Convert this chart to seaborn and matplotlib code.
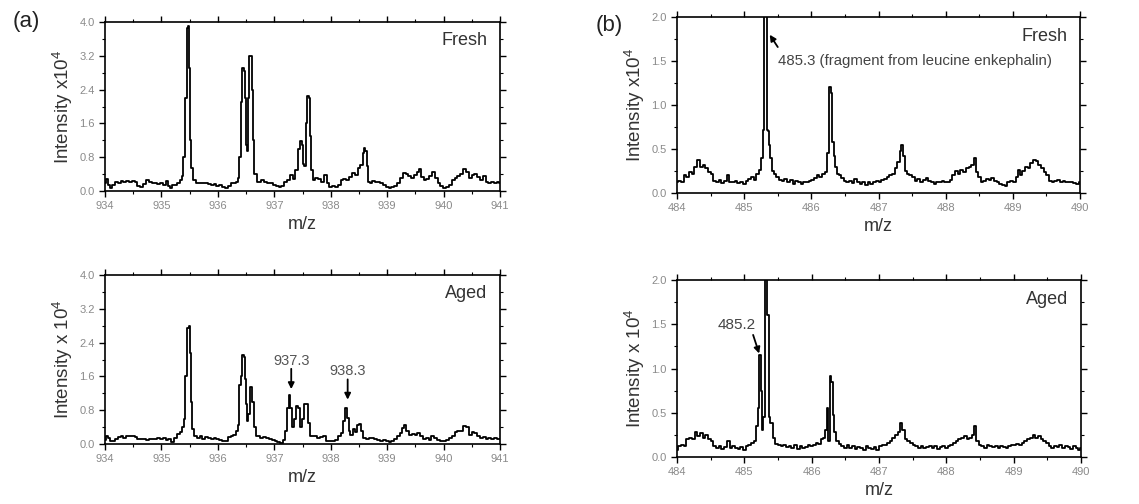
import matplotlib
matplotlib.use("Agg")
import matplotlib.pyplot as plt
from matplotlib.ticker import MultipleLocator
import seaborn as sns
import pandas as pd

# ---------------- data (intensity in units of 10^4) ----------------
a_fresh_mz = [934.00, 934.03, 934.06, 934.10, 934.15, 934.20, 934.25, 934.30, 934.35, 934.40,
              934.45, 934.50, 934.55, 934.60, 934.65, 934.70, 934.75, 934.80, 934.85, 934.90,
              934.95, 935.00, 935.05, 935.10, 935.13, 935.16, 935.20, 935.25, 935.30, 935.35,
              935.38, 935.40, 935.43, 935.46, 935.48, 935.50, 935.52, 935.54, 935.58, 935.65,
              935.70, 935.75, 935.80, 935.85, 935.90, 935.95, 936.00, 936.05, 936.10, 936.15,
              936.20, 936.25, 936.30, 936.35, 936.37, 936.39, 936.42, 936.45, 936.47, 936.49,
              936.51, 936.53, 936.55, 936.57, 936.59, 936.61, 936.63, 936.66, 936.72, 936.80,
              936.85, 936.90, 936.95, 937.00, 937.05, 937.10, 937.15, 937.20, 937.25, 937.30,
              937.35, 937.40, 937.44, 937.47, 937.50, 937.52, 937.54, 937.57, 937.60, 937.62,
              937.64, 937.67, 937.70, 937.75, 937.80, 937.85, 937.90, 937.95, 938.00, 938.05,
              938.10, 938.15, 938.20, 938.25, 938.30, 938.35, 938.40, 938.45, 938.50, 938.55,
              938.58, 938.60, 938.62, 938.65, 938.68, 938.72, 938.76, 938.80, 938.85, 938.90,
              938.95, 939.00, 939.05, 939.10, 939.15, 939.20, 939.25, 939.30, 939.35, 939.40,
              939.45, 939.50, 939.55, 939.58, 939.62, 939.67, 939.72, 939.77, 939.82, 939.87,
              939.92, 939.97, 940.02, 940.07, 940.12, 940.17, 940.22, 940.27, 940.32, 940.37,
              940.42, 940.47, 940.52, 940.57, 940.62, 940.67, 940.72, 940.77, 940.82, 940.87,
              940.92, 940.97, 941.00]
a_fresh_int = [0.20, 0.28, 0.15, 0.08, 0.14, 0.22, 0.20, 0.24, 0.22, 0.24,
               0.21, 0.23, 0.22, 0.12, 0.10, 0.16, 0.26, 0.22, 0.18, 0.19,
               0.16, 0.18, 0.15, 0.24, 0.12, 0.08, 0.14, 0.14, 0.20, 0.26,
               0.35, 0.80, 2.20, 3.85, 3.90, 2.90, 1.20, 0.55, 0.25, 0.18,
               0.20, 0.18, 0.20, 0.17, 0.14, 0.16, 0.12, 0.15, 0.10, 0.08,
               0.12, 0.20, 0.20, 0.22, 0.30, 0.80, 2.10, 2.90, 2.85, 2.20,
               1.10, 0.95, 2.20, 3.20, 3.20, 2.40, 1.20, 0.40, 0.22, 0.25,
               0.22, 0.20, 0.18, 0.14, 0.12, 0.10, 0.12, 0.22, 0.25, 0.38,
               0.28, 0.50, 1.00, 1.18, 1.10, 0.65, 0.60, 1.60, 2.25, 2.20,
               1.30, 0.50, 0.25, 0.30, 0.28, 0.22, 0.38, 0.18, 0.10, 0.12,
               0.10, 0.14, 0.25, 0.28, 0.25, 0.32, 0.42, 0.38, 0.55, 0.62,
               0.90, 1.02, 0.95, 0.60, 0.22, 0.18, 0.24, 0.22, 0.22, 0.20,
               0.14, 0.10, 0.08, 0.09, 0.12, 0.18, 0.30, 0.42, 0.40, 0.35,
               0.30, 0.38, 0.45, 0.52, 0.32, 0.25, 0.28, 0.35, 0.45, 0.30,
               0.18, 0.12, 0.08, 0.10, 0.14, 0.25, 0.30, 0.35, 0.40, 0.52,
               0.45, 0.30, 0.38, 0.40, 0.32, 0.25, 0.35, 0.22, 0.20, 0.22,
               0.20, 0.21, 0.20]

a_aged_mz = [934.00, 934.03, 934.06, 934.10, 934.15, 934.20, 934.25, 934.30, 934.35, 934.40,
             934.45, 934.50, 934.55, 934.60, 934.65, 934.70, 934.75, 934.80, 934.85, 934.90,
             934.95, 935.00, 935.05, 935.10, 935.15, 935.20, 935.25, 935.30, 935.35, 935.38,
             935.41, 935.44, 935.47, 935.49, 935.51, 935.53, 935.56, 935.60, 935.66, 935.70,
             935.75, 935.80, 935.85, 935.90, 935.95, 936.00, 936.05, 936.10, 936.15, 936.20,
             936.25, 936.30, 936.34, 936.37, 936.39, 936.42, 936.45, 936.47, 936.49, 936.51,
             936.53, 936.55, 936.58, 936.60, 936.62, 936.65, 936.70, 936.78, 936.83, 936.88,
             936.93, 936.98, 937.03, 937.08, 937.13, 937.17, 937.21, 937.24, 937.27, 937.30,
             937.33, 937.37, 937.41, 937.44, 937.47, 937.51, 937.55, 937.58, 937.61, 937.64,
             937.69, 937.74, 937.79, 937.84, 937.89, 937.94, 938.00, 938.05, 938.10, 938.15,
             938.20, 938.24, 938.27, 938.30, 938.33, 938.37, 938.41, 938.45, 938.49, 938.52,
             938.56, 938.60, 938.65, 938.70, 938.75, 938.80, 938.85, 938.90, 938.95, 939.00,
             939.05, 939.10, 939.15, 939.20, 939.25, 939.29, 939.32, 939.36, 939.41, 939.46,
             939.51, 939.56, 939.61, 939.66, 939.71, 939.76, 939.81, 939.86, 939.91, 939.96,
             940.02, 940.07, 940.12, 940.17, 940.22, 940.27, 940.32, 940.37, 940.42, 940.47,
             940.52, 940.57, 940.62, 940.67, 940.72, 940.77, 940.82, 940.87, 940.92, 940.97,
             941.00]
a_aged_int = [0.10, 0.20, 0.14, 0.06, 0.07, 0.12, 0.16, 0.18, 0.15, 0.19,
              0.18, 0.20, 0.16, 0.12, 0.11, 0.12, 0.10, 0.12, 0.13, 0.12,
              0.14, 0.12, 0.14, 0.10, 0.12, 0.05, 0.14, 0.24, 0.28, 0.40,
              0.60, 1.60, 2.75, 2.80, 2.15, 1.00, 0.35, 0.20, 0.15, 0.18,
              0.12, 0.16, 0.14, 0.12, 0.14, 0.12, 0.10, 0.06, 0.08, 0.16,
              0.20, 0.22, 0.30, 0.45, 1.40, 1.60, 2.10, 2.05, 1.55, 0.95,
              0.55, 0.70, 1.35, 1.35, 1.00, 0.40, 0.18, 0.15, 0.16, 0.14,
              0.12, 0.10, 0.08, 0.05, 0.02, 0.10, 0.30, 0.85, 1.15, 0.85,
              0.40, 0.60, 0.90, 0.85, 0.40, 0.60, 0.95, 0.95, 0.50, 0.20,
              0.18, 0.20, 0.15, 0.16, 0.20, 0.08, 0.06, 0.08, 0.10, 0.18,
              0.25, 0.55, 0.85, 0.62, 0.30, 0.22, 0.35, 0.28, 0.45, 0.48,
              0.30, 0.15, 0.12, 0.14, 0.15, 0.12, 0.10, 0.08, 0.10, 0.06,
              0.05, 0.08, 0.12, 0.20, 0.25, 0.38, 0.45, 0.30, 0.22, 0.24,
              0.22, 0.26, 0.18, 0.12, 0.14, 0.10, 0.18, 0.15, 0.10, 0.06,
              0.08, 0.10, 0.15, 0.20, 0.28, 0.30, 0.30, 0.42, 0.40, 0.22,
              0.28, 0.25, 0.18, 0.15, 0.16, 0.12, 0.15, 0.12, 0.14, 0.12,
              0.12]

b_fresh_mz = [484.00, 484.04, 484.08, 484.12, 484.16, 484.20, 484.24, 484.28, 484.32, 484.36,
              484.40, 484.44, 484.48, 484.52, 484.56, 484.60, 484.64, 484.68, 484.72, 484.76,
              484.80, 484.84, 484.88, 484.92, 484.96, 485.00, 485.04, 485.08, 485.12, 485.16,
              485.20, 485.24, 485.27, 485.29, 485.30, 485.33, 485.34, 485.36, 485.38, 485.40,
              485.43, 485.46, 485.50, 485.54, 485.58, 485.62, 485.66, 485.70, 485.74, 485.78,
              485.82, 485.86, 485.90, 485.94, 485.98, 486.02, 486.06, 486.10, 486.14, 486.18,
              486.22, 486.26, 486.28, 486.30, 486.32, 486.34, 486.36, 486.39, 486.42, 486.46,
              486.50, 486.54, 486.58, 486.62, 486.66, 486.70, 486.74, 486.78, 486.82, 486.86,
              486.90, 486.94, 486.98, 487.02, 487.06, 487.10, 487.14, 487.18, 487.22, 487.26,
              487.30, 487.33, 487.35, 487.38, 487.41, 487.44, 487.48, 487.52, 487.56, 487.60,
              487.64, 487.68, 487.72, 487.76, 487.80, 487.84, 487.88, 487.92, 487.96, 488.00,
              488.04, 488.08, 488.12, 488.16, 488.20, 488.24, 488.28, 488.32, 488.36, 488.40,
              488.43, 488.46, 488.50, 488.54, 488.58, 488.62, 488.66, 488.70, 488.74, 488.78,
              488.82, 488.86, 488.90, 488.94, 488.98, 489.02, 489.06, 489.09, 489.12, 489.16,
              489.20, 489.24, 489.28, 489.32, 489.36, 489.40, 489.44, 489.48, 489.52, 489.56,
              489.60, 489.64, 489.68, 489.72, 489.76, 489.80, 489.84, 489.88, 489.92, 489.96,
              490.00]
b_fresh_int = [0.12, 0.14, 0.12, 0.20, 0.18, 0.24, 0.22, 0.30, 0.38, 0.30,
               0.32, 0.28, 0.24, 0.22, 0.14, 0.12, 0.15, 0.11, 0.14, 0.20,
               0.13, 0.12, 0.14, 0.11, 0.13, 0.10, 0.14, 0.16, 0.18, 0.15,
               0.22, 0.26, 0.40, 0.72, 3.00, 3.00, 0.72, 0.70, 0.55, 0.40,
               0.25, 0.22, 0.18, 0.15, 0.14, 0.16, 0.12, 0.15, 0.10, 0.14,
               0.12, 0.10, 0.13, 0.12, 0.14, 0.15, 0.17, 0.20, 0.18, 0.22,
               0.24, 0.45, 1.20, 1.14, 0.58, 0.42, 0.30, 0.22, 0.20, 0.17,
               0.14, 0.12, 0.14, 0.11, 0.16, 0.12, 0.10, 0.13, 0.09, 0.12,
               0.10, 0.12, 0.14, 0.13, 0.15, 0.16, 0.18, 0.20, 0.22, 0.28,
               0.35, 0.48, 0.55, 0.42, 0.25, 0.22, 0.20, 0.18, 0.14, 0.16,
               0.12, 0.15, 0.17, 0.14, 0.12, 0.10, 0.13, 0.12, 0.14, 0.12,
               0.13, 0.15, 0.20, 0.25, 0.22, 0.26, 0.24, 0.28, 0.30, 0.32,
               0.40, 0.24, 0.18, 0.12, 0.14, 0.16, 0.15, 0.17, 0.14, 0.12,
               0.10, 0.09, 0.08, 0.12, 0.14, 0.13, 0.18, 0.26, 0.20, 0.25,
               0.30, 0.28, 0.34, 0.38, 0.36, 0.32, 0.28, 0.24, 0.20, 0.14,
               0.12, 0.14, 0.15, 0.12, 0.14, 0.13, 0.12, 0.13, 0.11, 0.10,
               0.12]

b_aged_mz = [484.00, 484.04, 484.08, 484.12, 484.16, 484.20, 484.24, 484.28, 484.32, 484.36,
             484.40, 484.44, 484.48, 484.52, 484.56, 484.60, 484.64, 484.68, 484.72, 484.76,
             484.80, 484.84, 484.88, 484.92, 484.96, 485.00, 485.04, 485.08, 485.12, 485.16,
             485.19, 485.21, 485.23, 485.25, 485.27, 485.29, 485.31, 485.33, 485.35, 485.37,
             485.40, 485.44, 485.48, 485.52, 485.56, 485.60, 485.64, 485.68, 485.72, 485.76,
             485.80, 485.84, 485.88, 485.92, 485.96, 486.00, 486.04, 486.08, 486.12, 486.16,
             486.19, 486.21, 486.23, 486.25, 486.28, 486.30, 486.32, 486.35, 486.38, 486.42,
             486.46, 486.50, 486.54, 486.58, 486.62, 486.66, 486.70, 486.74, 486.78, 486.82,
             486.86, 486.90, 486.94, 486.98, 487.02, 487.06, 487.10, 487.14, 487.18, 487.22,
             487.26, 487.30, 487.33, 487.36, 487.40, 487.44, 487.48, 487.52, 487.56, 487.60,
             487.64, 487.68, 487.72, 487.76, 487.80, 487.84, 487.88, 487.92, 487.96, 488.00,
             488.04, 488.08, 488.12, 488.16, 488.20, 488.24, 488.28, 488.32, 488.36, 488.40,
             488.43, 488.46, 488.50, 488.54, 488.58, 488.62, 488.66, 488.70, 488.74, 488.78,
             488.82, 488.86, 488.90, 488.94, 488.98, 489.02, 489.06, 489.10, 489.14, 489.18,
             489.22, 489.26, 489.30, 489.34, 489.38, 489.42, 489.46, 489.50, 489.54, 489.58,
             489.62, 489.66, 489.70, 489.74, 489.78, 489.82, 489.86, 489.90, 489.94, 489.98,
             490.00]
b_aged_int = [0.08, 0.12, 0.14, 0.12, 0.20, 0.22, 0.20, 0.28, 0.24, 0.27,
              0.22, 0.25, 0.20, 0.18, 0.12, 0.10, 0.12, 0.09, 0.11, 0.18,
              0.10, 0.12, 0.10, 0.09, 0.11, 0.08, 0.12, 0.14, 0.16, 0.18,
              0.35, 0.55, 1.15, 0.75, 0.30, 0.45, 3.00, 3.00, 1.60, 0.45,
              0.38, 0.22, 0.15, 0.14, 0.12, 0.14, 0.11, 0.12, 0.10, 0.13,
              0.09, 0.12, 0.10, 0.11, 0.13, 0.12, 0.14, 0.16, 0.15, 0.20,
              0.22, 0.30, 0.55, 0.18, 0.92, 0.85, 0.48, 0.28, 0.18, 0.15,
              0.12, 0.10, 0.13, 0.10, 0.12, 0.09, 0.11, 0.10, 0.08, 0.12,
              0.10, 0.09, 0.11, 0.08, 0.12, 0.13, 0.14, 0.16, 0.18, 0.22,
              0.25, 0.28, 0.38, 0.30, 0.20, 0.18, 0.16, 0.14, 0.12, 0.10,
              0.12, 0.10, 0.11, 0.12, 0.10, 0.12, 0.09, 0.11, 0.12, 0.10,
              0.12, 0.14, 0.16, 0.18, 0.20, 0.22, 0.24, 0.20, 0.22, 0.25,
              0.35, 0.18, 0.14, 0.12, 0.10, 0.13, 0.12, 0.11, 0.12, 0.10,
              0.12, 0.11, 0.10, 0.12, 0.14, 0.13, 0.15, 0.14, 0.16, 0.18,
              0.20, 0.22, 0.25, 0.22, 0.24, 0.20, 0.18, 0.16, 0.12, 0.10,
              0.12, 0.11, 0.13, 0.10, 0.12, 0.11, 0.09, 0.12, 0.10, 0.08,
              0.10]

panels = [
    dict(mz=a_fresh_mz, inten=a_fresh_int, xlim=(934, 941), ylim=(0, 4.0), ystep=0.8, yminor=0.4,
         ylabel="Intensity x10$^4$", tag="Fresh", rect=[0.0922, 0.621, 0.3468, 0.3353]),
    dict(mz=a_aged_mz, inten=a_aged_int, xlim=(934, 941), ylim=(0, 4.0), ystep=0.8, yminor=0.4,
         ylabel="Intensity x 10$^4$", tag="Aged", rect=[0.0922, 0.119, 0.3468, 0.3353]),
    dict(mz=b_fresh_mz, inten=b_fresh_int, xlim=(484, 490), ylim=(0, 2.0), ystep=0.5, yminor=0.25,
         ylabel="Intensity x10$^4$", tag="Fresh", rect=[0.5944, 0.617, 0.3538, 0.349]),
    dict(mz=b_aged_mz, inten=b_aged_int, xlim=(484, 490), ylim=(0, 2.0), ystep=0.5, yminor=0.25,
         ylabel="Intensity x 10$^4$", tag="Aged", rect=[0.5944, 0.0933, 0.3547, 0.351]),
]

sns.set_theme(style="white")
plt.rcParams['font.family'] = ['Liberation Sans', 'DejaVu Sans']
plt.rcParams['mathtext.fontset'] = 'custom'
plt.rcParams['mathtext.rm'] = 'Liberation Sans'

fig = plt.figure(figsize=(11.39, 5.04), dpi=100)
axes = []
tick_color = "#8a8a8a"
for p in panels:
    ax = fig.add_axes(p["rect"])
    df = pd.DataFrame({"mz": p["mz"], "intensity": p["inten"]})
    sns.lineplot(data=df, x="mz", y="intensity", ax=ax, color="black", linewidth=1.3,
                 estimator=None, sort=False, drawstyle="steps-mid")
    ax.set_xlim(*p["xlim"])
    ax.set_ylim(*p["ylim"])
    ax.xaxis.set_major_locator(MultipleLocator(1))
    ax.xaxis.set_minor_locator(MultipleLocator(0.5))
    ax.yaxis.set_major_locator(MultipleLocator(p["ystep"]))
    ax.yaxis.set_minor_locator(MultipleLocator(p["yminor"]))
    ax.yaxis.set_major_formatter(matplotlib.ticker.FormatStrFormatter("%.1f"))
    ax.xaxis.set_major_formatter(matplotlib.ticker.FormatStrFormatter("%d"))
    for s in ax.spines.values():
        s.set_color("black")
        s.set_linewidth(1.2)
    ax.tick_params(which="both", direction="out", top=True, right=True, bottom=True, left=True,
                   color="black", labelcolor=tick_color, labelsize=8)
    ax.tick_params(which="major", length=4, width=1)
    ax.tick_params(which="minor", length=2.5, width=0.8)
    ax.set_xlabel("m/z", fontsize=13, color="#333333", labelpad=3)
    ax.set_ylabel(p["ylabel"], fontsize=13.5, color="#333333", labelpad=3)
    ax.text(0.968, 0.89, p["tag"], transform=ax.transAxes, ha="right", va="center",
            fontsize=13, color="#333333")
    axes.append(ax)

arrow = dict(arrowstyle="-|>", color="black", lw=1.3, mutation_scale=9, shrinkA=0, shrinkB=0)
axes[1].annotate("", xy=(937.3, 1.3), xytext=(937.3, 1.78), arrowprops=arrow)
axes[1].text(937.3, 1.96, "937.3", ha="center", va="center", fontsize=10.5, color="#555555")
axes[1].annotate("", xy=(938.3, 1.05), xytext=(938.3, 1.53), arrowprops=arrow)
axes[1].text(938.3, 1.73, "938.3", ha="center", va="center", fontsize=10.5, color="#555555")

axes[2].annotate("", xy=(485.38, 1.80), xytext=(485.5, 1.66), arrowprops=arrow)
axes[2].text(485.5, 1.5, "485.3 (fragment from leucine enkephalin)", ha="left", va="center",
             fontsize=10.8, color="#444444")
axes[3].annotate("", xy=(485.22, 1.17), xytext=(485.13, 1.38), arrowprops=arrow)
axes[3].text(484.88, 1.49, "485.2", ha="center", va="center", fontsize=11, color="#444444")

fig.text(0.023, 0.958, "(a)", fontsize=16, color="#222222", ha="center", va="center")
fig.text(0.535, 0.950, "(b)", fontsize=16, color="#222222", ha="center", va="center")

fig.savefig("out.png", dpi=100)
